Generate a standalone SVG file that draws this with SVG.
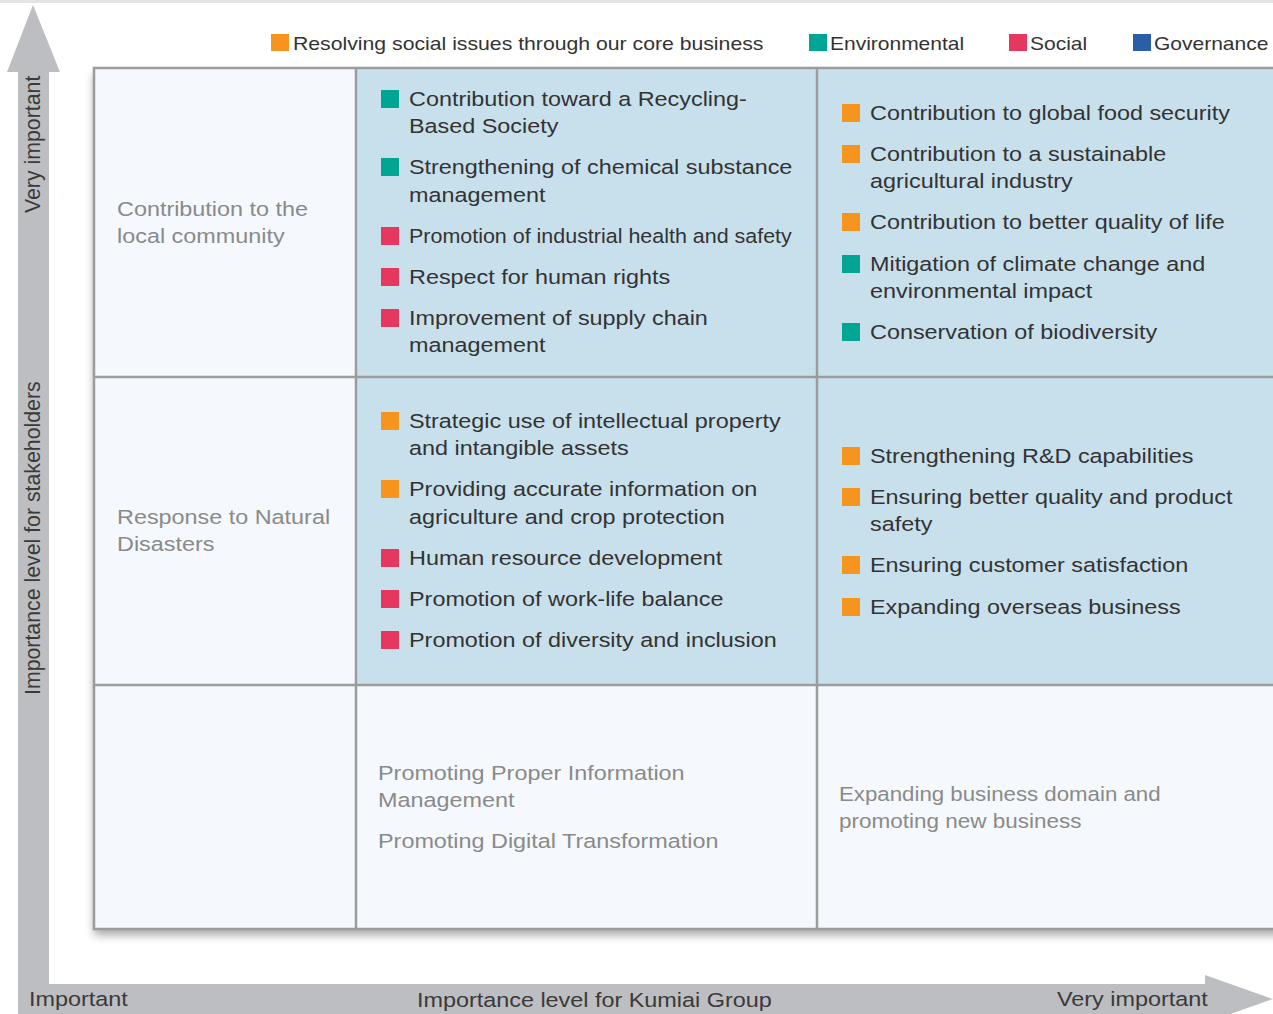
<svg xmlns="http://www.w3.org/2000/svg" width="1273" height="1014" viewBox="0 0 1273 1014">
  <defs>
    <style>
      .txt { font-family: "Liberation Sans", Arial, sans-serif; font-size: 19.5px; fill: #333333; }
      .muted { fill: #8a8a8a; }
      .legend { font-family: "Liberation Sans", Arial, sans-serif; font-size: 17.5px; fill: #333333; }
      .axis { font-family: "Liberation Sans", Arial, sans-serif; font-size: 19.5px; fill: #3a3a3a; }
      .vaxis { font-family: "Liberation Sans", Arial, sans-serif; font-size: 21.3px; fill: #3a3a3a; }
      .pale { fill: #f5f9fd; }
      .blue { fill: #c8e0ec; }
      .grid { stroke: #9c9c9c; stroke-width: 2.5; fill: none; }
      .o { fill: #f7941d; }
      .g { fill: #00a594; }
      .r { fill: #e6375f; }
      .b { fill: #2b5ea6; }
      .arrow { fill: #bdbec1; }
    </style>
    <filter id="shadow" x="-5%" y="-5%" width="110%" height="112%">
      <feDropShadow dx="0" dy="6" stdDeviation="5" flood-color="#000000" flood-opacity="0.35"/>
    </filter>
  </defs>

  <rect x="0" y="0" width="1273" height="1014" fill="#ffffff"/>
  <rect x="0" y="0" width="1273" height="3" fill="#e4e4e4"/>

  <!-- axes -->
  <g id="axes">
    <polygon class="arrow" points="33,5 60,72 49,72 49,984 1205,984 1205,975 1273,999 1205,1023 1205,1014 18,1014 18,72 7,72"/>
    <text class="vaxis" transform="translate(40 213) rotate(-90)">Very important</text>
    <text class="vaxis" transform="translate(40 695) rotate(-90)">Importance level for stakeholders</text>
    <g transform="translate(29 0) scale(1.2 1)"><text class="axis" x="0" y="1006">Important</text></g>
    <g transform="translate(417 0) scale(1.2 1)"><text class="axis" x="0" y="1007">Importance level for Kumiai Group</text></g>
    <g transform="translate(1057 0) scale(1.2 1)"><text class="axis" x="0" y="1006">Very important</text></g>
  </g>

  <!-- legend -->
  <g id="legend">
    <rect class="o" x="271" y="34" width="18" height="17"/>
    <rect class="g" x="809" y="34" width="18" height="17"/>
    <rect class="r" x="1009" y="34" width="18" height="17"/>
    <rect class="b" x="1133" y="34" width="18" height="17"/>
    <g transform="translate(293 0) scale(1.2 1)"><text class="legend" x="0" y="50" textLength="392" lengthAdjust="spacingAndGlyphs">Resolving social issues through our core business</text></g>
    <g transform="translate(830 0) scale(1.2 1)"><text class="legend" x="0" y="50">Environmental</text></g>
    <g transform="translate(1030 0) scale(1.2 1)"><text class="legend" x="0" y="50">Social</text></g>
    <g transform="translate(1154 0) scale(1.2 1)"><text class="legend" x="0" y="50">Governance</text></g>
  </g>

  <!-- matrix frame with shadow -->
  <rect x="94" y="68" width="1200" height="861" fill="#f5f9fd" filter="url(#shadow)"/>

  <!-- row 1 -->
  <g id="cell-r1c1">
    <rect class="pale" x="94" y="68" width="262" height="309"/>
    <g transform="translate(117 0) scale(1.2 1)">
      <text class="txt muted" x="0" y="216">Contribution to the</text>
      <text class="txt muted" x="0" y="243">local community</text>
    </g>
  </g>
  <g id="cell-r1c2">
    <rect class="blue" x="356" y="68" width="461" height="309"/>
    <rect class="g" x="381" y="90" width="18" height="18"/>
    <rect class="g" x="381" y="158" width="18" height="18"/>
    <rect class="r" x="381" y="227" width="18" height="18"/>
    <rect class="r" x="381" y="268" width="18" height="18"/>
    <rect class="r" x="381" y="309" width="18" height="18"/>
    <g transform="translate(409 0) scale(1.2 1)">
      <text class="txt" x="0" y="106">Contribution toward a Recycling-</text>
      <text class="txt" x="0" y="133">Based Society</text>
      <text class="txt" x="0" y="174">Strengthening of chemical substance</text>
      <text class="txt" x="0" y="202">management</text>
      <text class="txt" x="0" y="243" textLength="319" lengthAdjust="spacingAndGlyphs">Promotion of industrial health and safety</text>
      <text class="txt" x="0" y="284">Respect for human rights</text>
      <text class="txt" x="0" y="325">Improvement of supply chain</text>
      <text class="txt" x="0" y="352">management</text>
    </g>
  </g>
  <g id="cell-r1c3">
    <rect class="blue" x="817" y="68" width="477" height="309"/>
    <rect class="o" x="842" y="104" width="18" height="18"/>
    <rect class="o" x="842" y="145" width="18" height="18"/>
    <rect class="o" x="842" y="213" width="18" height="18"/>
    <rect class="g" x="842" y="255" width="18" height="18"/>
    <rect class="g" x="842" y="323" width="18" height="18"/>
    <g transform="translate(870 0) scale(1.2 1)">
      <text class="txt" x="0" y="120">Contribution to global food security</text>
      <text class="txt" x="0" y="161">Contribution to a sustainable</text>
      <text class="txt" x="0" y="188">agricultural industry</text>
      <text class="txt" x="0" y="229">Contribution to better quality of life</text>
      <text class="txt" x="0" y="271">Mitigation of climate change and</text>
      <text class="txt" x="0" y="298">environmental impact</text>
      <text class="txt" x="0" y="339">Conservation of biodiversity</text>
    </g>
  </g>

  <!-- row 2 -->
  <g id="cell-r2c1">
    <rect class="pale" x="94" y="377" width="262" height="308"/>
    <g transform="translate(117 0) scale(1.2 1)">
      <text class="txt muted" x="0" y="524">Response to Natural</text>
      <text class="txt muted" x="0" y="551">Disasters</text>
    </g>
  </g>
  <g id="cell-r2c2">
    <rect class="blue" x="356" y="377" width="461" height="308"/>
    <rect class="o" x="381" y="412" width="18" height="18"/>
    <rect class="o" x="381" y="480" width="18" height="18"/>
    <rect class="r" x="381" y="549" width="18" height="18"/>
    <rect class="r" x="381" y="590" width="18" height="18"/>
    <rect class="r" x="381" y="631" width="18" height="18"/>
    <g transform="translate(409 0) scale(1.2 1)">
      <text class="txt" x="0" y="428">Strategic use of intellectual property</text>
      <text class="txt" x="0" y="455">and intangible assets</text>
      <text class="txt" x="0" y="496">Providing accurate information on</text>
      <text class="txt" x="0" y="524">agriculture and crop protection</text>
      <text class="txt" x="0" y="565">Human resource development</text>
      <text class="txt" x="0" y="606">Promotion of work-life balance</text>
      <text class="txt" x="0" y="647">Promotion of diversity and inclusion</text>
    </g>
  </g>
  <g id="cell-r2c3">
    <rect class="blue" x="817" y="377" width="477" height="308"/>
    <rect class="o" x="842" y="447" width="18" height="18"/>
    <rect class="o" x="842" y="488" width="18" height="18"/>
    <rect class="o" x="842" y="556" width="18" height="18"/>
    <rect class="o" x="842" y="598" width="18" height="18"/>
    <g transform="translate(870 0) scale(1.2 1)">
      <text class="txt" x="0" y="463">Strengthening R&amp;D capabilities</text>
      <text class="txt" x="0" y="504">Ensuring better quality and product</text>
      <text class="txt" x="0" y="531">safety</text>
      <text class="txt" x="0" y="572">Ensuring customer satisfaction</text>
      <text class="txt" x="0" y="614">Expanding overseas business</text>
    </g>
  </g>

  <!-- row 3 -->
  <g id="cell-r3c1">
    <rect class="pale" x="94" y="685" width="262" height="244"/>
  </g>
  <g id="cell-r3c2">
    <rect class="pale" x="356" y="685" width="461" height="244"/>
    <g transform="translate(378 0) scale(1.2 1)">
      <text class="txt muted" x="0" y="780">Promoting Proper Information</text>
      <text class="txt muted" x="0" y="807">Management</text>
      <text class="txt muted" x="0" y="848">Promoting Digital Transformation</text>
    </g>
  </g>
  <g id="cell-r3c3">
    <rect class="pale" x="817" y="685" width="477" height="244"/>
    <g transform="translate(839 0) scale(1.2 1)">
      <text class="txt muted" x="0" y="801" textLength="268" lengthAdjust="spacingAndGlyphs">Expanding business domain and</text>
      <text class="txt muted" x="0" y="828" textLength="202" lengthAdjust="spacingAndGlyphs">promoting new business</text>
    </g>
  </g>

  <!-- grid lines -->
  <g id="grid">
    <rect class="grid" x="94" y="68" width="1200" height="861"/>
    <line class="grid" x1="356" y1="68" x2="356" y2="929"/>
    <line class="grid" x1="817" y1="68" x2="817" y2="929"/>
    <line class="grid" x1="94" y1="377" x2="1294" y2="377"/>
    <line class="grid" x1="94" y1="685" x2="1294" y2="685"/>
  </g>
</svg>
